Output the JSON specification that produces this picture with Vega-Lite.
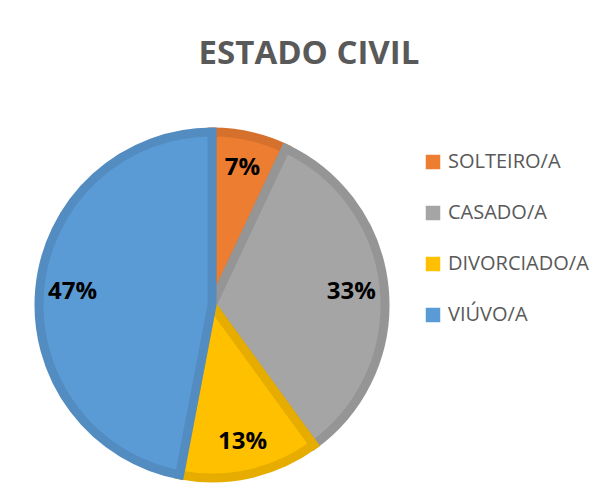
{
  "$schema": "https://vega.github.io/schema/vega-lite/v6.json",
  "width": 356,
  "height": 356,
  "autosize": "none",
  "padding": {"left": 34, "top": 127, "right": 209, "bottom": 5},
  "background": "white",
  "title": {
    "text": "ESTADO CIVIL",
    "font": "Open Sans",
    "fontSize": 33,
    "fontWeight": "bold",
    "color": "#595959",
    "anchor": "middle",
    "frame": "group",
    "dx": 97,
    "offset": 17,
    "baseline": "alphabetic"
  },
  "data": {
    "values": [
      {"estado": "SOLTEIRO/A", "pct": 0.07, "orden": 1},
      {"estado": "CASADO/A", "pct": 0.33, "orden": 2},
      {"estado": "DIVORCIADO/A", "pct": 0.13, "orden": 3},
      {"estado": "VIÚVO/A", "pct": 0.47, "orden": 4}
    ]
  },
  "encoding": {
    "theta": {"field": "pct", "type": "quantitative", "stack": true},
    "order": {"field": "orden", "type": "quantitative"}
  },
  "layer": [
    {
      "mark": {"type": "arc", "outerRadius": 173, "strokeWidth": 9, "strokeJoin": "miter"},
      "encoding": {
        "color": {
          "field": "estado",
          "type": "nominal",
          "scale": {
            "domain": ["SOLTEIRO/A", "CASADO/A", "DIVORCIADO/A", "VIÚVO/A"],
            "range": ["#ED7D31", "#A5A5A5", "#FFC000", "#5B9BD5"]
          },
          "legend": {
            "orient": "none",
            "legendX": 389,
            "legendY": 25,
            "title": null,
            "symbolType": "square",
            "symbolSize": 210,
            "symbolStrokeWidth": 0,
            "symbolOpacity": 1,
            "labelFont": "Open Sans",
            "labelFontSize": 20,
            "labelColor": "#595959",
            "labelOffset": 5,
            "rowPadding": 31,
            "padding": 0
          }
        },
        "stroke": {
          "field": "estado",
          "type": "nominal",
          "scale": {
            "domain": ["SOLTEIRO/A", "CASADO/A", "DIVORCIADO/A", "VIÚVO/A"],
            "range": ["#D5712C", "#959595", "#E6AD00", "#538CC1"]
          },
          "legend": null
        }
      }
    },
    {
      "mark": {"type": "text", "radius": 140, "font": "Open Sans", "fontSize": 24, "fontWeight": "bold", "color": "#000000"},
      "encoding": {
        "text": {"field": "pct", "type": "quantitative", "format": ".0%"}
      }
    }
  ],
  "config": {"view": {"stroke": null}}
}
